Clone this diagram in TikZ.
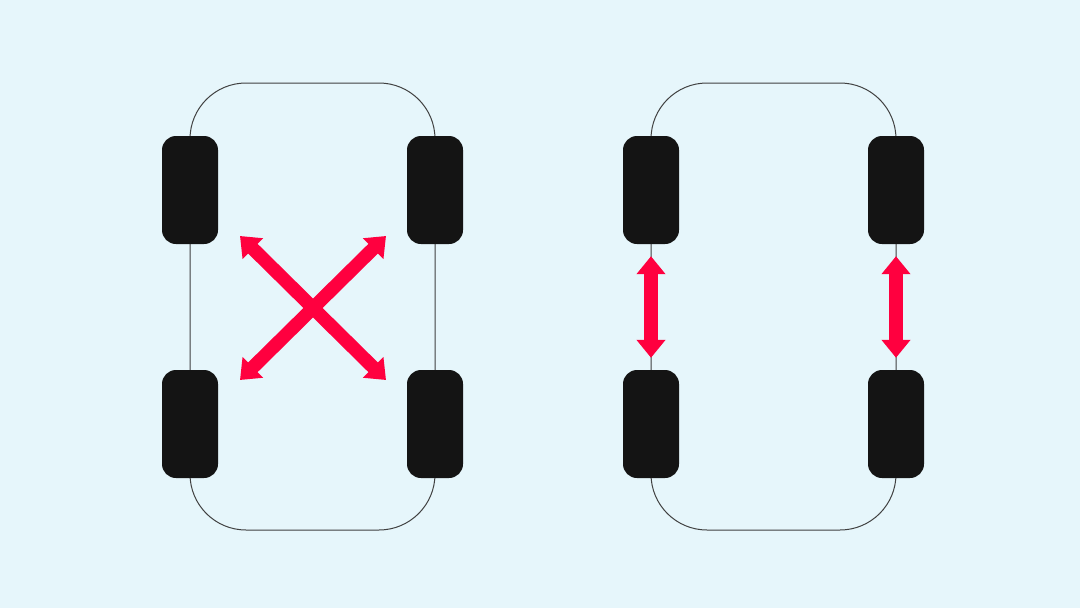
\documentclass[tikz,border=0pt]{standalone}
\usetikzlibrary{arrows.meta}
\definecolor{bgblue}{HTML}{E6F6FB}
\definecolor{tiregray}{HTML}{141414}
\definecolor{swapred}{HTML}{FF003F}
\tikzset{> = {Triangle[width=28pt, length=18pt]}}
\tikzset{
  body/.style = {draw=black!75, line width=1pt, rounded corners=56pt},
  tire/.style = {fill=tiregray, draw=none, rounded corners=14pt, minimum width=56pt, minimum height=108pt, inner sep=0pt},
  swap/.style = {<->, draw=swapred, line width=13.5pt, color=swapred}
}
\begin{document}
\begin{tikzpicture}[x=1pt, y=-1pt]
% background
\fill[bgblue] (0,0) rectangle (1080,608);
\useasboundingbox (0,0) rectangle (1080,608);
% car bodies
\draw[body] (190,83) rectangle (435,530);
\draw[body] (651,83) rectangle (896,530);
% tires of the left car
\node[tire] (L1) at (190,190) {}; % front left
\node[tire] (L2) at (435,190) {}; % front right
\node[tire] (L3) at (190,424) {}; % rear left
\node[tire] (L4) at (435,424) {}; % rear right
% tires of the right car
\node[tire] (R1) at (651,190) {};
\node[tire] (R2) at (896,190) {};
\node[tire] (R3) at (651,424) {};
\node[tire] (R4) at (896,424) {};
% ends of the crossed arrows
\coordinate (X1) at (240,236);
\coordinate (X2) at (386,236);
\coordinate (X3) at (240,380);
\coordinate (X4) at (386,380);
% arrows
\draw[swap] (X1) -- (X4);
\draw[swap] (X2) -- (X3);
\draw[swap, shorten <=12pt, shorten >=12pt] (R1.south) -- (R3.north);
\draw[swap, shorten <=12pt, shorten >=12pt] (R2.south) -- (R4.north);
\end{tikzpicture}
\end{document}
